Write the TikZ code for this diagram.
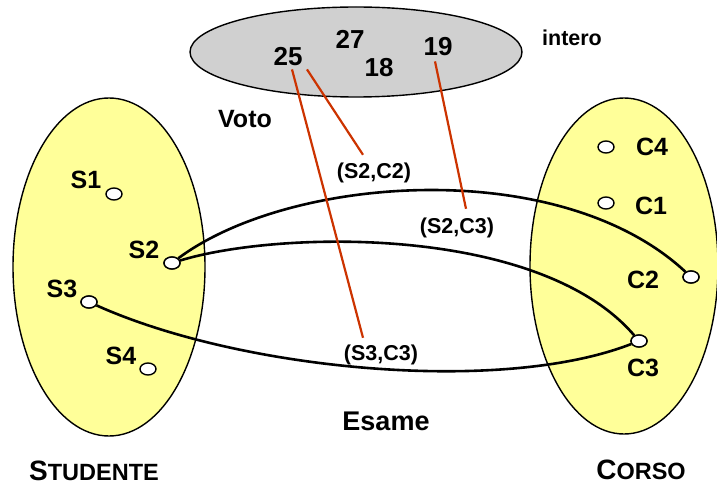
\documentclass[tikz,border=0pt]{standalone}
\usepackage{fontspec}
\setmainfont{Liberation Sans}
\usetikzlibrary{shapes.geometric,calc}
\definecolor{setyellow}{RGB}{255,255,153}
\definecolor{setgray}{RGB}{208,208,208}
\definecolor{linkred}{RGB}{204,51,0}
\tikzset{
  setshape/.style={draw=black, line width=1.4pt, ellipse, inner sep=0pt},
  elem/.style={draw=black, fill=white, line width=1.4pt, ellipse, minimum width=16pt, minimum height=12pt, inner sep=0pt},
  lbl/.style={font=\bfseries\fontsize{25}{28}\selectfont, inner sep=1pt},
  num/.style={font=\bfseries\fontsize{26}{28}\selectfont, inner sep=1pt},
  pair/.style={font=\bfseries\fontsize{21.5}{24}\selectfont, inner sep=1pt},
  big/.style={font=\bfseries\fontsize{27}{28}\selectfont, inner sep=1pt},
  link/.style={draw=black, line width=2.6pt},
  redlink/.style={draw=linkred, line width=2.2pt}
}
\begin{document}
\begin{tikzpicture}[x=1pt,y=-1pt]
\useasboundingbox (0,0) rectangle (717,489);
% sets
\node[setshape, fill=setyellow, minimum width=192pt, minimum height=338pt] (stud) at (109,267) {};
\node[setshape, fill=setyellow, minimum width=188pt, minimum height=336pt] (corso) at (624,266) {};
\node[setshape, fill=setgray, minimum width=332pt, minimum height=90pt] (intset) at (356,52) {};
% values
\node[num] (n25) at (288,57) {25};
\node[num] (n27) at (350,39) {27};
\node[num] (n18) at (379,68) {18};
\node[num] (n19) at (438,47) {19};
\node[pair] (intero) at (572,38) {intero};
% elements
\node[elem] (s1) at (114,194) {};
\node[elem] (s2) at (172,263) {};
\node[elem] (s3) at (89,302) {};
\node[elem] (s4) at (148,369) {};
\node[elem] (c4) at (606,147) {};
\node[elem] (c1) at (606,203) {};
\node[elem] (c2) at (691,277) {};
\node[elem] (c3) at (639,341) {};
\node[lbl] (ls1) at (86,180) {S1};
\node[lbl] (ls2) at (144,250) {S2};
\node[lbl] (ls3) at (62,289) {S3};
\node[lbl] (ls4) at (121,356) {S4};
\node[lbl] (lc4) at (652,147) {C4};
\node[lbl] (lc1) at (651,206) {C1};
\node[lbl] (lc2) at (643,280) {C2};
\node[lbl] (lc3) at (643,368) {C3};
% pair labels
\node[pair] (p22) at (374,173) {(S2,C2)};
\node[pair] (p23) at (457,228) {(S2,C3)};
\node[pair] (p33) at (381,355) {(S3,C3)};
\node[lbl] (voto) at (245,119) {Voto};
\node[big] (esame) at (386,421) {Esame};
\node[inner sep=1pt] (lstud) at (94,471) {\bfseries\fontsize{28}{30}\selectfont S\fontsize{23.5}{26}\selectfont TUDENTE};
\node[inner sep=1pt] (lcorso) at (641,470) {\bfseries\fontsize{28}{30}\selectfont C\fontsize{23.5}{26}\selectfont ORSO};
% relationship curves
\draw[link] (s2) .. controls (290,175) and (560,155) .. (c2);
\draw[link] (s2) .. controls (280,230) and (540,225) .. (c3);
\draw[link] (s3) .. controls (240,370) and (500,395) .. (c3);
% redraw elements on top
\foreach \e in {s2,s3,c2,c3} {\node[elem] at (\e) {};}
% value links
\draw[redlink] ($(n25.south)+(4,2)$) -- ($(p33.north)+(-18,-6)$);
\draw[redlink] ($(n25.south)+(19,2)$) -- ($(p22.north)+(-11,-7)$);
\draw[redlink] ($(n19.south)+(-3,4)$) -- ($(p23.north)+(9,-8)$);
\end{tikzpicture}
\end{document}
